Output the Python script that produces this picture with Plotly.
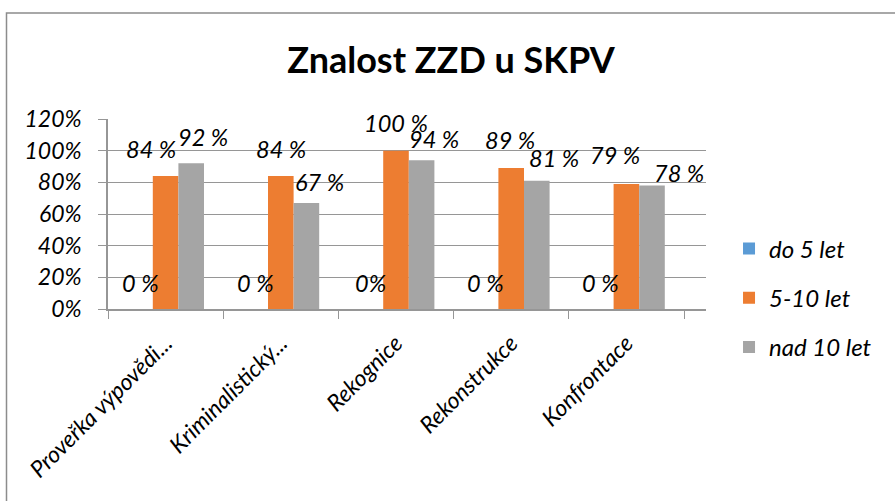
import plotly.graph_objects as go

categories = ["Proveřka výpovědi...", "Kriminalistický...", "Rekognice", "Rekonstrukce", "Konfrontace"]
series_names = ["do 5 let", "5-10 let", "nad 10 let"]
do5 = [0.00, 0.00, 0.00, 0.00, 0.00]
s5_10 = [0.84, 0.84, 1.00, 0.89, 0.79]
nad10 = [0.92, 0.67, 0.94, 0.81, 0.78]
y_ticks = [0.0, 0.2, 0.4, 0.6, 0.8, 1.0, 1.2]
y_tick_labels = ["0%", "20%", "40%", "60%", "80%", "100%", "120%"]
label_texts = [
    ["0 %", "0 %", "0%", "0 %", "0 %"],
    ["84 %", "84 %", "100 %", "89 %", "79 %"],
    ["92 %", "67 %", "94 %", "81 %", "78 %"],
]
# label placement tweaks (pixels) mimicking the original layout
label_dx = [[0, 0, 0, 0, 0], [-15, 0, 0, -1, -11], [12, 13, 12, 17, 27]]
label_dy = [[26, 26, 26, 26, 26], [27, 27, 28, 28, 29], [26, 21, 21, 23, 13]]

colors = ["#5B9BD5", "#ED7D31", "#A5A5A5"]
values = [do5, s5_10, nad10]

FONT = "Lato"
fig = go.Figure()
for i, (name, vals) in enumerate(zip(series_names, values)):
    fig.add_trace(go.Bar(
        x=categories, y=vals, name=f"<i>{name}</i>", marker_color=colors[i],
        marker_line_width=0, legendgroup=name,
    ))

bar_w = (1 - 1 / 3) / 3
annotations = []
for s in range(3):
    off = (s - 1) * bar_w
    for c in range(len(categories)):
        annotations.append(dict(
            x=c + off, y=values[s][c], xref="x", yref="y",
            text=f"<i>{label_texts[s][c]}</i>", showarrow=False,
            xanchor="center", yanchor="middle",
            xshift=label_dx[s][c], yshift=label_dy[s][c],
            font=dict(family=FONT, size=23.5, color="#000000"),
        ))

GRID = "#969696"
fig.update_layout(
    width=895, height=501,
    margin=dict(l=108, r=189, t=119, b=192),
    paper_bgcolor="white", plot_bgcolor="white",
    barmode="group", bargap=1 / 3, bargroupgap=0,
    title=dict(text="<b>Znalost ZZD u SKPV</b>", x=0.504, xanchor="center",
               y=1 - 60 / 501, yanchor="middle",
               font=dict(family=FONT, size=36, color="#000000")),
    legend=dict(x=1.0385, xanchor="left", y=0.058, yanchor="middle",
                font=dict(family=FONT, size=24, color="#000000"),
                tracegroupgap=15, bgcolor="rgba(0,0,0,0)"),
    annotations=annotations,
    shapes=[dict(type="rect", xref="paper", yref="paper",
                 x0=(6.5 - 108) / 598, x1=3, y0=-3, y1=(309 - 13) / 190,
                 line=dict(color="#8C8C8C", width=1.5), layer="below")],
)
fig.update_xaxes(
    type="category", tickangle=-45, showgrid=False,
    tickvals=categories, ticktext=[f"<i>{c}</i>" for c in categories],
    showline=True, linecolor=GRID, linewidth=1.5,
    ticks="outside", tickson="boundaries", ticklen=8, tickcolor=GRID,
    ticklabelstandoff=10,
    tickfont=dict(family=FONT, size=23, color="#000000"),
)
fig.update_yaxes(
    range=[0, 1.2], tickvals=y_ticks, ticktext=[f"<i>{t}</i>" for t in y_tick_labels],
    showgrid=True, gridcolor=GRID, gridwidth=1.2, zeroline=False,
    showline=True, linecolor=GRID, linewidth=1.5,
    ticks="outside", ticklen=8, tickcolor=GRID, ticklabelstandoff=12,
    tickfont=dict(family=FONT, size=23, color="#000000"),
)

fig.write_html("out.html", config={"displayModeBar": False},
               post_script="document.body.style.margin='0';")
